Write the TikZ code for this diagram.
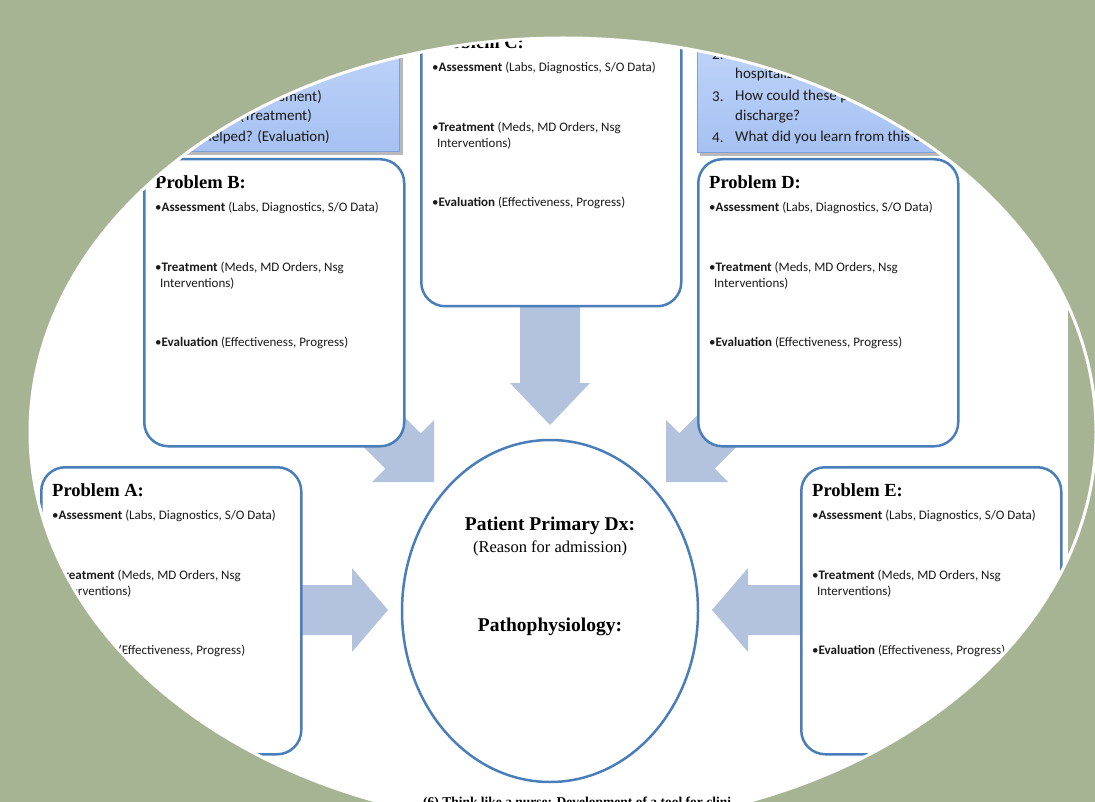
\documentclass[tikz,border=0pt]{standalone}
\usepackage{fontspec}
\setmainfont{Carlito}
\newfontfamily\serifb{Liberation Serif}
\usetikzlibrary{shapes.geometric}
\definecolor{bggreen}{HTML}{A6B493}
\definecolor{boxblue}{HTML}{4A7EBB}
\definecolor{arrowblue}{HTML}{B4C3DD}
\definecolor{topblue}{HTML}{A6C1F2}
\definecolor{toplight}{HTML}{CADCFB}
\definecolor{topedge}{HTML}{7F9FD6}
\definecolor{txt}{HTML}{1A1A1A}
\tikzset{
  pbox/.style={draw=boxblue, line width=2.5, fill=white, rounded corners=24,
    minimum width=260, minimum height=287, anchor=north west, inner sep=0},
  ptitle/.style={font=\serifb\bfseries\fontsize{18.5}{20}\selectfont, anchor=west, inner sep=0, text=black},
  ptext/.style={font=\fontsize{13}{16}\selectfont, anchor=west, inner sep=0, text=txt},
  toptext/.style={font=\fontsize{15}{18}\selectfont, inner sep=0, text=txt},
  topbox/.style={top color=toplight, bottom color=topblue, draw=topedge, line width=0.8, inner sep=0},
  blockarrow/.style={fill=arrowblue},
  dxbold/.style={font=\serifb\bfseries\fontsize{19.5}{22}\selectfont, inner sep=0},
}
\newcommand\probbox[5]{%
  \node[pbox] (#1) at (#2,#3) {};
  \node[ptitle] (#1t) at ([shift={(12,#5)}]#1.north west) {Problem #4:};
  \node[ptext] (#1a) at ([shift={(12,50)}]#1.north west) {•\textbf{Assessment} (Labs, Diagnostics, S/O Data)};
  \node[ptext] (#1r) at ([shift={(12,110)}]#1.north west) {•\textbf{Treatment} (Meds, MD Orders, Nsg};
  \node[ptext] (#1i) at ([shift={(17,126)}]#1.north west) {Interventions)};
  \node[ptext] (#1e) at ([shift={(12,185)}]#1.north west) {•\textbf{Evaluation} (Effectiveness, Progress)};
}
\begin{document}
\begin{tikzpicture}[x=1pt,y=-1pt]
\useasboundingbox (0,0) rectangle (1095,802);
\fill[bggreen] (0,0) rectangle (1095,802);
\begin{scope}
  \clip (563,432) ellipse [x radius=533, y radius=394];
  \fill[white] (0,0) rectangle (1068,802);
  % top blue boxes
  \fill[gray!55] (-10,-10) rectangle (403,155);
  \node[topbox, minimum width=410, minimum height=162, anchor=south east] (tl) at (400,152) {};
  \fill[gray!55] (700,-10) rectangle (1075,156);
  \node[topbox, minimum width=380, minimum height=163, anchor=south west] (tr) at (697,153) {};
  \node[toptext, anchor=east] (tl1) at (322,97) {(Assessment)};
  \node[toptext, anchor=east] (tl2) at (312,116) {(Treatment)};
  \node[toptext, anchor=east] (tl3) at (330,137) {helped? (Evaluation)};
  \node[toptext, anchor=west] (tr2) at (712,55) {2.};
  \node[toptext, anchor=west] (tr2b) at (735,75) {hospitaliz};
  \node[toptext, anchor=west] (tr3) at (712,97) {3.};
  \node[toptext, anchor=west] (tr3a) at (735,97) {How could these p};
  \node[toptext, anchor=west] (tr3b) at (735,117) {discharge?};
  \node[toptext, anchor=west] (tr4) at (712,138) {4.};
  \node[toptext, anchor=west] (tr4a) at (735,138) {What did you learn from this e};
  % block arrows
  \fill[blockarrow] (290,585) -- (352,585) -- (352,568) -- (388,610) -- (352,652) -- (352,635) -- (290,635) -- cycle;
  \fill[blockarrow] (810,585) -- (748,585) -- (748,568) -- (712,610) -- (748,652) -- (748,635) -- (810,635) -- cycle;
  \fill[blockarrow] (520,295) -- (580,295) -- (580,383) -- (590,383) -- (550,425) -- (510,383) -- (520,383) -- cycle;
  \fill[blockarrow] (305.3,388.7) -- (385.3,468.7) -- (372,482) -- (434,482) -- (434,420) -- (420.7,433.3) -- (340.7,353.3) -- cycle;
  \fill[blockarrow] (794.7,388.7) -- (714.7,468.7) -- (728,482) -- (666,482) -- (666,420) -- (679.3,433.3) -- (759.3,353.3) -- cycle;
  % problem boxes
  \probbox{C}{420}{18}{C}{24}
  \probbox{B}{143}{158}{B}{24}
  \probbox{D}{697}{158}{D}{24}
  \probbox{A}{40}{466}{A}{24}
  \probbox{E}{800}{466}{E}{24}
  % central oval
  \node[draw=boxblue, line width=2.5, ellipse, fill=white, minimum width=296, minimum height=342, inner sep=0] (dx) at (550,611) {};
  \node[dxbold] (dx1) at (550,526) {Patient Primary Dx:};
  \node[font=\serifb\fontsize{16.5}{19}\selectfont, inner sep=0] (dx2) at (550,548) {(Reason for admission)};
  \node[dxbold] (dx3) at (550,627) {Pathophysiology:};
  \node[font=\serifb\bfseries\fontsize{13.5}{15}\selectfont, anchor=base west, inner sep=0] (cap) at (423,806) {(6) Think like a nurse: Development of a tool for clini};
\end{scope}
\draw[white, line width=3] (563,432) ellipse [x radius=533, y radius=394];
\end{tikzpicture}
\end{document}
